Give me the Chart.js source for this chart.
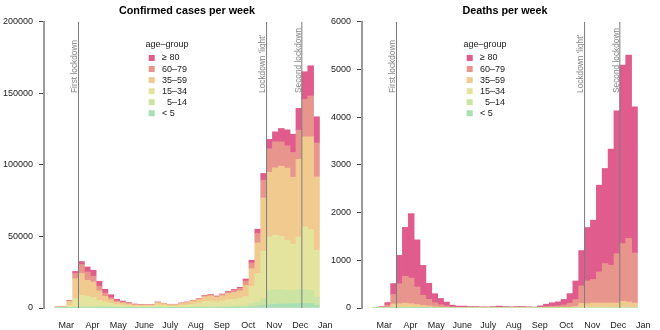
<!DOCTYPE html>
<html><head><meta charset="utf-8">
<script src="https://cdn.jsdelivr.net/npm/chart.js@4/dist/chart.umd.min.js"></script>
<style>
html,body{margin:0;padding:0;background:#fff;}
#wrap{position:relative;width:660px;height:330px;overflow:hidden;}
canvas{position:absolute;top:0;}
</style></head><body>
<div id="wrap">
<canvas id="c1" width="340" height="330" style="left:0"></canvas>
<canvas id="c2" width="330" height="330" style="left:330px"></canvas>
</div>
<script>
// ---- data ----
const calendarWeeks = [9,10,11,12,13,14,15,16,17,18,19,20,21,22,23,24,25,26,27,28,29,30,31,32,33,34,35,36,37,38,39,40,41,42,43,44,45,46,47,48,49,50,51,52,53];
const firstWeek = 9;
const ageGroups = ['< 5', '  5\u201314', '15\u201334', '35\u201359', '60\u201379', '\u2265 80'];
const monthLabels = ['Mar','Apr','May','June','July','Aug','Sep','Oct','Nov','Dec','Jan'];
const monthTickWeeks = [1.93,6.36,10.78,15.18,19.63,23.97,28.39,32.90,37.32,41.75,46.00];
const eventLabels = ['First lockdown', "Lockdown 'light'", 'Second lockdown'];
const eventWeeks = [13, 45, 51];

// confirmed cases per week by age group
const casesU5    = [20,15,50,300,400,400,400,400,500,400,300,250,170,100,90,80,80,130,110,80,80,120,150,200,250,350,350,350,400,500,500,600,600,1000,1300,1900,2400,2600,2900,2800,2900,3100,3100,3100,1900];
const cases5to14 = [30,35,150,500,800,800,800,800,800,700,500,450,330,220,190,170,170,300,230,170,170,250,300,420,500,650,700,650,800,1000,1100,1200,1300,2100,3000,4700,9500,10300,10000,9600,9100,9800,9800,9300,5800];
const cases15to34= [250,400,1550,5700,7700,7000,6100,4200,3000,2300,1600,1400,1200,900,850,850,900,1650,1300,1050,1050,1450,1700,2200,2700,3600,3800,3300,3800,4300,4500,5000,6300,12100,19800,33100,37800,38000,37300,35000,32700,36800,43800,42500,32700];
const cases35to59= [300,550,2800,14000,15200,11200,10900,6500,3900,2400,1700,1400,1100,900,850,850,850,1700,1300,1000,1000,1300,1600,2000,2400,3300,3600,3100,3600,4300,4700,5200,7700,12400,21400,37300,45300,47100,49000,50400,46700,54200,63000,64800,51300];
const cases60to79= [80,160,700,3700,6300,5800,4000,3300,2300,1400,900,700,500,380,270,230,220,330,280,230,230,300,350,450,500,700,800,750,900,1200,1600,1800,3000,3900,6600,12400,16300,18200,17000,15600,17300,20500,26200,28500,23800];
const cases80plus= [20,40,150,1400,2100,3500,4200,3500,2600,2100,1100,700,500,300,150,100,80,90,80,70,70,80,100,130,150,200,250,250,300,400,600,700,1400,1900,3000,4700,6600,7000,9300,11200,12800,15200,19300,21200,18200];

// deaths per week by age group
const deathsU5    = [0,0,0,1,1,1,1,1,1,1,1,0,0,0,0,0,0,0,0,0,0,0,0,0,0,0,0,0,0,0,0,0,0,0,0,0,0,0,0,0,0,0,0,0,0];
const deaths5to14 = [0,0,0,0,1,1,1,1,1,1,0,0,0,0,0,0,0,0,0,0,0,0,0,0,0,0,0,0,0,0,0,0,0,0,0,0,0,0,0,0,0,0,0,0,0];
const deaths15to34= [1,1,3,15,15,20,18,15,12,10,4,3,2,1,1,1,1,1,0,0,1,1,1,0,1,1,0,0,1,1,1,2,3,5,6,17,17,18,17,17,18,16,21,17,15];
const deaths35to59= [2,5,12,70,72,80,70,55,40,30,20,12,8,4,3,3,2,2,2,2,2,3,2,2,2,2,2,2,3,5,7,8,12,17,30,80,75,88,88,88,88,88,120,110,90];
const deaths60to79= [5,12,45,196,420,560,538,370,210,140,85,55,33,15,10,10,8,8,7,7,8,11,8,7,8,8,7,5,12,22,30,35,48,80,140,365,475,491,651,827,791,1037,1211,1330,1050];
const deaths80plus= [4,12,55,231,595,1029,1352,987,630,336,190,130,82,40,26,26,19,19,16,16,19,25,19,16,19,19,16,13,29,52,72,85,117,200,391,743,1121,1245,1821,1995,2436,2996,3745,3850,3066];

// ---- styling ----
const ageColors = ['#a9dfb2', '#cbe4a2', '#e4e49e', '#f1ca90', '#e8958d', '#df5c8c'];
const FONT = '"Liberation Sans", Arial, Helvetica, sans-serif';
Chart.defaults.font.family = FONT;
const PX_PER_WEEK = 5.877;
const X_MIN = -11 / PX_PER_WEEK;
const X_MAX = X_MIN + 286 / PX_PER_WEEK;

const eventPlugin = {
  id: 'events',
  afterDatasetsDraw(chart) {
    const { ctx, chartArea: a, scales: { x } } = chart;
    ctx.save();
    eventWeeks.forEach((w, k) => {
      const px = x.getPixelForValue(w - firstWeek);
      ctx.strokeStyle = '#7c7c7c';
      ctx.lineWidth = 1;
      ctx.beginPath();
      ctx.moveTo(px, a.top);
      ctx.lineTo(px, a.bottom);
      ctx.stroke();
      ctx.save();
      ctx.translate(px - 1.2, a.top + 71);
      ctx.rotate(-Math.PI / 2);
      ctx.font = '8.3px ' + FONT;
      ctx.fillStyle = '#858585';
      ctx.textAlign = 'left';
      ctx.textBaseline = 'alphabetic';
      ctx.fillText(eventLabels[k], 0, 0);
      ctx.restore();
    });
    ctx.restore();
  }
};

const legendPlugin = {
  id: 'ageLegend',
  afterDraw(chart) {
    const { ctx, chartArea: a } = chart;
    const x0 = a.left + 107.7;
    ctx.save();
    ctx.font = '9px ' + FONT;
    ctx.fillStyle = '#222';
    ctx.textAlign = 'center';
    ctx.textBaseline = 'middle';
    ctx.fillText('age\u2013group', a.left + 123, a.top + 22.3);
    const ds = chart.data.datasets.slice().reverse();
    ds.forEach((d, r) => {
      const y = a.top + 36 + r * 11.06;
      ctx.fillStyle = d.backgroundColor;
      ctx.fillRect(x0 - 3, y - 3, 6, 6);
      ctx.fillStyle = '#222';
      ctx.textAlign = 'left';
      ctx.fillText(d.label, x0 + 10.3, y);
    });
    ctx.restore();
  }
};

function makeChart(id, title, series, yMax, yStep, yAxisWidth, padRight) {
  const datasets = ageGroups.map((g, k) => ({
    label: g,
    data: series[k].map((v, i) => ({ x: calendarWeeks[i] - firstWeek + 0.5, y: v })),
    backgroundColor: ageColors[k],
    borderWidth: 0,
    barPercentage: 1,
    categoryPercentage: 1
  }));
  return new Chart(document.getElementById(id), {
    type: 'bar',
    data: { datasets },
    plugins: [eventPlugin, legendPlugin],
    options: {
      responsive: false,
      animation: false,
      devicePixelRatio: 1,
      layout: { padding: { left: 0, right: padRight, top: 0, bottom: 0 } },
      plugins: {
        legend: { display: false },
        tooltip: { enabled: false },
        title: {
          display: true, text: title, fullSize: false, color: '#000',
          font: { family: FONT, size: 10.8, weight: 'bold' },
          padding: { top: 4.7, bottom: 4.3 }
        }
      },
      scales: {
        x: {
          type: 'linear', stacked: true, offset: false, min: X_MIN, max: X_MAX,
          grid: { display: false, drawTicks: false, offset: false },
          border: { display: false },
          ticks: {
            autoSkip: false, maxRotation: 0, padding: 12, color: '#1a1a1a',
            font: { family: FONT, size: 9 },
            callback: (v, i) => monthLabels[i]
          },
          afterBuildTicks(a) { a.ticks = monthTickWeeks.map(v => ({ value: v })); },
          afterFit(a) { a.height = 22; a.paddingLeft = 0; a.paddingRight = 0; }
        },
        y: {
          stacked: true, min: 0, max: yMax,
          ticks: { stepSize: yStep, padding: 6, color: '#1a1a1a', font: { family: FONT, size: 9 }, callback: v => String(v) },
          grid: { drawOnChartArea: false, drawTicks: true, tickLength: 5, color: '#444', lineWidth: 1 },
          border: { display: true, color: '#9a9a9a', width: 2 },
          afterFit(a) { a.width = yAxisWidth; a.paddingTop = 0; a.paddingBottom = 0; }
        }
      }
    }
  });
}

makeChart('c1', 'Confirmed cases per week',
  [casesU5, cases5to14, cases15to34, cases35to59, cases60to79, cases80plus], 200000, 50000, 44, 10);
makeChart('c2', 'Deaths per week',
  [deathsU5, deaths5to14, deaths15to34, deaths35to59, deaths60to79, deaths80plus], 6000, 1000, 32, 12);
</script>
</body></html>
